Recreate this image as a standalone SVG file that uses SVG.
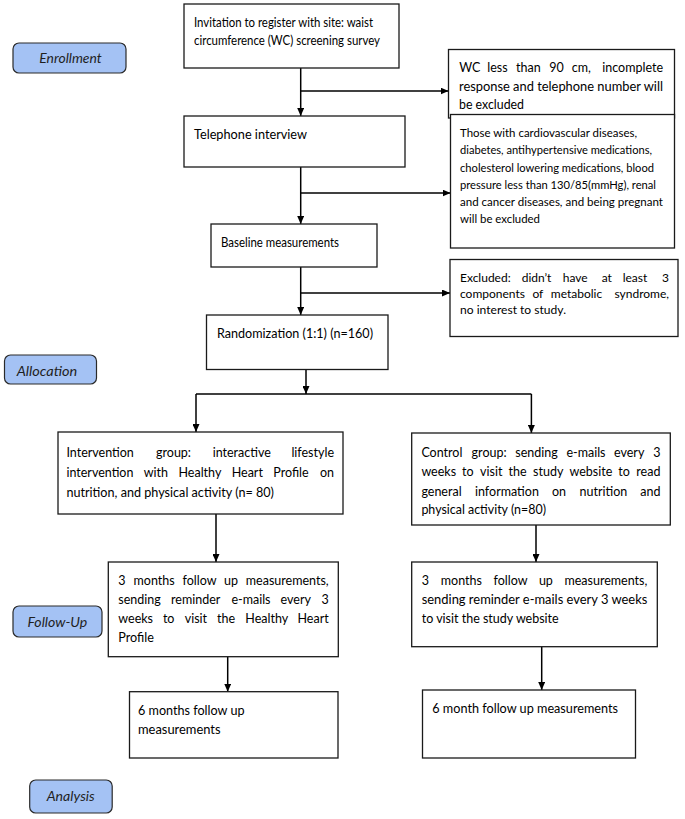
<svg xmlns="http://www.w3.org/2000/svg" width="685" height="819" viewBox="0 0 685 819">
<defs>
<style>
.box{fill:#fff;stroke:#1a1a1a;stroke-width:1.3}
.lbl{fill:#a4c2f4;stroke:#2a2a2a;stroke-width:1.2}
.t{font-family:Lato,"Liberation Sans",sans-serif;font-size:12.5px;fill:#000}
.s{font-size:11px}
.m{font-size:12px}
.l{font-family:Lato,"Liberation Sans",sans-serif;font-size:13px;font-style:italic;fill:#1f1f1f}
.c{fill:none;stroke:#000;stroke-width:1.5}
.e{text-anchor:end}
</style>
<marker id="ah" viewBox="0 0 10 10" refX="10" refY="5" markerWidth="8" markerHeight="7" markerUnits="userSpaceOnUse" orient="auto" preserveAspectRatio="none">
<path d="M0,0 L10,5 L0,10 z" fill="#000"/>
</marker>
</defs>
<rect width="685" height="819" fill="#fff"/>

<g id="lbl-enrollment"><rect class="lbl" x="13" y="43" width="113" height="30" rx="6"/><text class="l" x="39.3" y="63" textLength="62.4" lengthAdjust="spacingAndGlyphs">Enrollment</text></g>
<g id="lbl-allocation"><rect class="lbl" x="4.5" y="355" width="92" height="29" rx="6"/><text class="l" x="16.7" y="376" textLength="60.6" lengthAdjust="spacingAndGlyphs">Allocation</text></g>
<g id="lbl-followup"><rect class="lbl" x="13" y="606" width="89" height="31" rx="6"/><text class="l" x="27.5" y="627" textLength="59.8" lengthAdjust="spacingAndGlyphs">Follow-Up</text></g>
<g id="lbl-analysis"><rect class="lbl" x="29.7" y="780" width="82.5" height="33" rx="6"/><text class="l" x="46.7" y="801" textLength="48" lengthAdjust="spacingAndGlyphs">Analysis</text></g>

<g id="connectors">
<path class="c" marker-end="url(#ah)" d="M300.7,68 V116"/>
<path class="c" marker-end="url(#ah)" d="M300.7,91 H448.5"/>
<path class="c" marker-end="url(#ah)" d="M300.7,167 V224"/>
<path class="c" marker-end="url(#ah)" d="M300.7,193 H450.5"/>
<path class="c" marker-end="url(#ah)" d="M300.7,267 V315"/>
<path class="c" marker-end="url(#ah)" d="M300.7,293 H450"/>
<path class="c" marker-end="url(#ah)" d="M306,369.5 V394"/>
<path class="c" d="M196,394 H531.4"/>
<path class="c" marker-end="url(#ah)" d="M196,394 V432"/>
<path class="c" marker-end="url(#ah)" d="M531.4,394 V433"/>
<path class="c" marker-end="url(#ah)" d="M216,514 V562"/>
<path class="c" marker-end="url(#ah)" d="M536,525 V562"/>
<path class="c" marker-end="url(#ah)" d="M227.7,656.7 V691.7"/>
<path class="c" marker-end="url(#ah)" d="M541.7,646.7 V690"/>
</g>

<g id="n-invite"><rect class="box" x="184" y="4" width="215" height="64"/>
<text class="t" x="194" y="27" textLength="179" lengthAdjust="spacingAndGlyphs">Invitation to register with site: waist</text>
<text class="t" x="194" y="45" textLength="186" lengthAdjust="spacingAndGlyphs">circumference (WC) screening survey</text></g>

<g id="n-wc"><rect class="box" x="448.5" y="49.5" width="226" height="68.5"/>
<text class="t" y="72"><tspan x="459.3">WC</tspan><tspan x="487.3">less</tspan><tspan x="516">than</tspan><tspan x="549.3">90</tspan><tspan x="571.7">cm,</tspan><tspan x="663" class="e">incomplete</tspan></text>
<text class="t" x="459" y="91" textLength="204" lengthAdjust="spacingAndGlyphs">response and telephone number will</text>
<text class="t" x="459" y="109" textLength="65" lengthAdjust="spacingAndGlyphs">be excluded</text></g>

<g id="n-tel"><rect class="box" x="184" y="116" width="221" height="51"/>
<text class="t" x="194" y="139" textLength="113" lengthAdjust="spacingAndGlyphs">Telephone interview</text></g>

<g id="n-excl2"><rect class="box" x="450.5" y="114.5" width="224" height="133.5"/>
<text class="t s" x="460" y="137" textLength="177" lengthAdjust="spacingAndGlyphs">Those with cardiovascular diseases,</text>
<text class="t s" x="460" y="154" textLength="192" lengthAdjust="spacingAndGlyphs">diabetes, antihypertensive medications,</text>
<text class="t s" x="460" y="171.5" textLength="194" lengthAdjust="spacingAndGlyphs">cholesterol lowering medications, blood</text>
<text class="t s" x="460" y="188.5" textLength="196" lengthAdjust="spacingAndGlyphs">pressure less than 130/85(mmHg), renal</text>
<text class="t s" x="460" y="206" textLength="203" lengthAdjust="spacingAndGlyphs">and cancer diseases, and being pregnant</text>
<text class="t s" x="460" y="223" textLength="80" lengthAdjust="spacingAndGlyphs">will be excluded</text></g>

<g id="n-base"><rect class="box" x="211" y="224" width="166" height="43"/>
<text class="t" x="221" y="247" textLength="118" lengthAdjust="spacingAndGlyphs">Baseline measurements</text></g>

<g id="n-excl3"><rect class="box" x="450" y="259.5" width="228" height="77"/>
<text class="t m" y="282"><tspan x="460">Excluded:</tspan><tspan x="521.7">didn’t</tspan><tspan x="562.7">have</tspan><tspan x="601.7">at</tspan><tspan x="622.7">least</tspan><tspan x="669" class="e">3</tspan></text>
<text class="t m" y="298"><tspan x="460">components</tspan><tspan x="532.4">of</tspan><tspan x="550.8">metabolic</tspan><tspan x="669" class="e">syndrome,</tspan></text>
<text class="t m" x="460" y="314" textLength="106" lengthAdjust="spacingAndGlyphs">no interest to study.</text></g>

<g id="n-rand"><rect class="box" x="206.5" y="315" width="181.5" height="54.5"/>
<text class="t" x="217" y="337.5" textLength="156" lengthAdjust="spacingAndGlyphs">Randomization (1:1) (n=160)</text></g>

<g id="n-interv"><rect class="box" x="58" y="432" width="285" height="82"/>
<text class="t" y="457"><tspan x="66.4">Intervention</tspan><tspan x="156">group:</tspan><tspan x="212.7">interactive</tspan><tspan x="334" class="e">lifestyle</tspan></text>
<text class="t" y="477"><tspan x="66.4">intervention</tspan><tspan x="143.8">with</tspan><tspan x="178.5">Healthy</tspan><tspan x="231.7">Heart</tspan><tspan x="273.3">Profile</tspan><tspan x="334" class="e">on</tspan></text>
<text class="t" x="66.4" y="497" textLength="207.6" lengthAdjust="spacingAndGlyphs">nutrition, and physical activity (n= 80)</text></g>

<g id="n-control"><rect class="box" x="411.7" y="433" width="258.6" height="92"/>
<text class="t" y="457"><tspan x="421.4">Control</tspan><tspan x="471.6">group:</tspan><tspan x="515.3">sending</tspan><tspan x="566.4">e-mails</tspan><tspan x="614">every</tspan><tspan x="660.4" class="e">3</tspan></text>
<text class="t" y="476"><tspan x="421.4">weeks</tspan><tspan x="462.1">to</tspan><tspan x="480.1">visit</tspan><tspan x="508.6">the</tspan><tspan x="533.1">study</tspan><tspan x="569.5">website</tspan><tspan x="618.2">to</tspan><tspan x="660.4" class="e">read</tspan></text>
<text class="t" y="495.5"><tspan x="421.4">general</tspan><tspan x="475">information</tspan><tspan x="552">on</tspan><tspan x="579.6">nutrition</tspan><tspan x="660.4" class="e">and</tspan></text>
<text class="t" x="421.4" y="514" textLength="124.6" lengthAdjust="spacingAndGlyphs">physical activity (n=80)</text></g>

<g id="n-3mo-l"><rect class="box" x="108.3" y="562" width="230" height="94.7"/>
<text class="t" y="585"><tspan x="118.3">3</tspan><tspan x="133.6">months</tspan><tspan x="182.6">follow</tspan><tspan x="224.1">up</tspan><tspan x="328.7" class="e">measurements,</tspan></text>
<text class="t" y="604"><tspan x="118.3">sending</tspan><tspan x="171">reminder</tspan><tspan x="231.4">e-mails</tspan><tspan x="280.6">every</tspan><tspan x="328.7" class="e">3</tspan></text>
<text class="t" y="623"><tspan x="118.3">weeks</tspan><tspan x="162.9">to</tspan><tspan x="184.7">visit</tspan><tspan x="217">the</tspan><tspan x="245.3">Healthy</tspan><tspan x="328.7" class="e">Heart</tspan></text>
<text class="t" x="118.3" y="642" textLength="35.7" lengthAdjust="spacingAndGlyphs">Profile</text></g>

<g id="n-3mo-r"><rect class="box" x="411.7" y="562" width="245.6" height="84.7"/>
<text class="t" y="585"><tspan x="421.7">3</tspan><tspan x="440.8">months</tspan><tspan x="493.6">follow</tspan><tspan x="538.9">up</tspan><tspan x="647.3" class="e">measurements,</tspan></text>
<text class="t" x="421.7" y="604" textLength="225.6" lengthAdjust="spacingAndGlyphs">sending reminder e-mails every 3 weeks</text>
<text class="t" x="421.7" y="622.5" textLength="137" lengthAdjust="spacingAndGlyphs">to visit the study website</text></g>

<g id="n-6mo-l"><rect class="box" x="129.5" y="691.7" width="208.5" height="66.3"/>
<text class="t" x="138" y="715" textLength="106.5" lengthAdjust="spacingAndGlyphs">6 months follow up</text>
<text class="t" x="138" y="734" textLength="82.5" lengthAdjust="spacingAndGlyphs">measurements</text></g>

<g id="n-6mo-r"><rect class="box" x="422.5" y="690" width="213" height="68"/>
<text class="t" x="432.3" y="712.5" textLength="185.7" lengthAdjust="spacingAndGlyphs">6 month follow up measurements</text></g>
</svg>
